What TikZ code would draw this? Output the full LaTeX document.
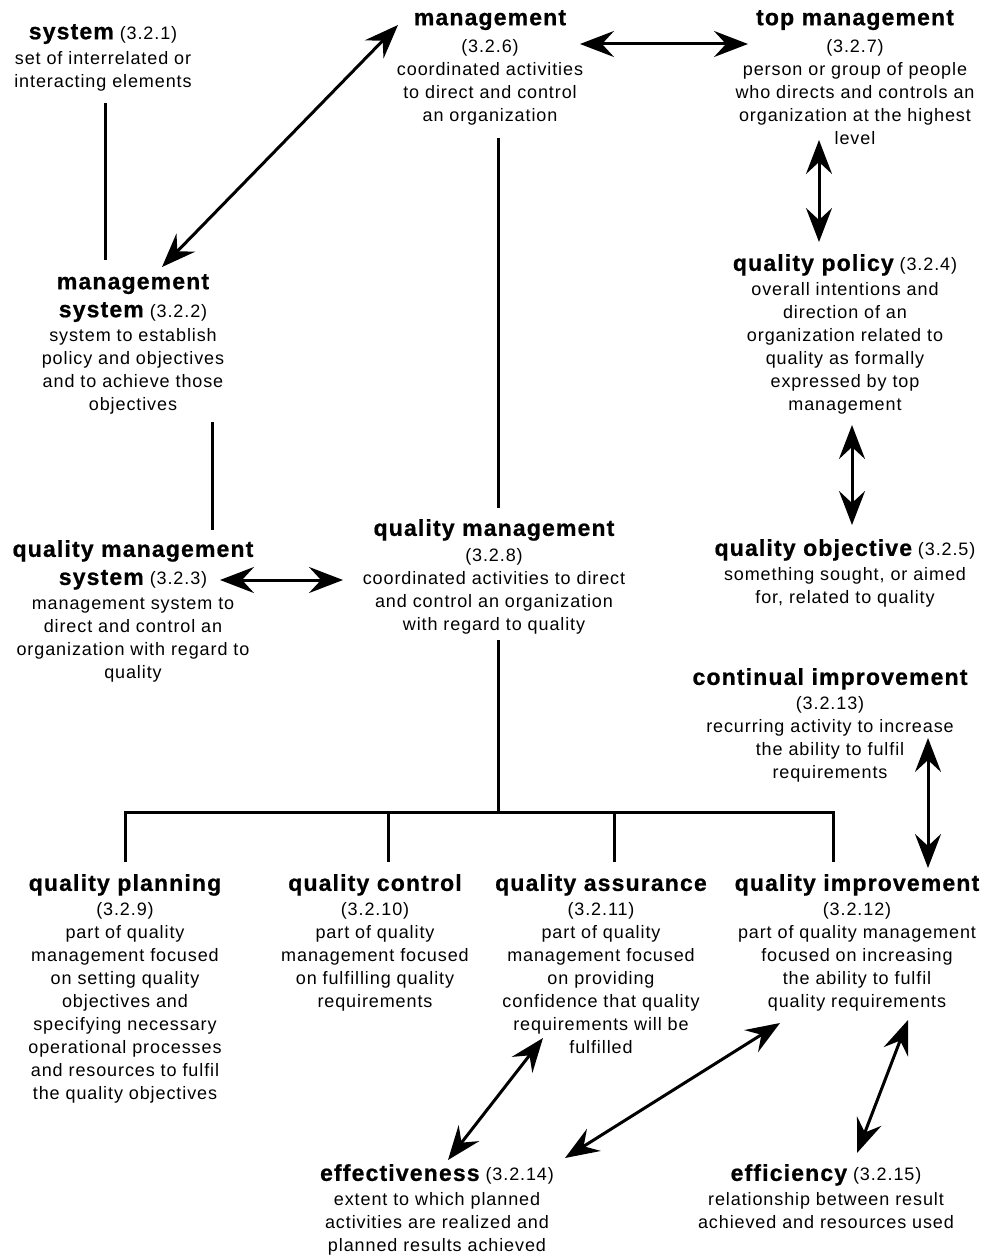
\documentclass[tikz,border=0pt]{standalone}
\usepackage{fontspec}
\setmainfont{Liberation Sans}[LetterSpace=5]
\newfontfamily\ttlfont{Liberation Sans}[LetterSpace=5, BoldFeatures={FakeBold=0.8}]
\usetikzlibrary{arrows.meta}
\newcommand\ttl[1]{{\ttlfont\bfseries\fontsize{23}{23}\selectfont #1}}
\tikzset{
  concept/.style={align=center, inner sep=0pt, anchor=north,
    font=\fontsize{18}{23}\selectfont},
  ln/.style={line width=3pt},
  dbl/.style={line width=3pt, arrows={Stealth[length=34pt,width=26pt,inset=12pt]-Stealth[length=34pt,width=26pt,inset=12pt]}}
}
\begin{document}
\begin{tikzpicture}[x=1pt,y=-1pt]
\useasboundingbox[fill=white] (0,0) rectangle (985,1255);
\node[concept] (sys) at (103,24) {\ttl{system} (3.2.1)\\[2pt]set of interrelated or\\interacting elements};
\node[concept] (mgmt) at (490,10) {\ttl{management}\\[4pt](3.2.6)\\coordinated activities\\to direct and control\\an organization};
\node[concept] (topm) at (855,10) {\ttl{top management}\\[4pt](3.2.7)\\person or group of people\\who directs and controls an\\organization at the highest\\level};
\node[concept] (mgsys) at (133,274) {\ttl{management}\\[5pt]\ttl{system} (3.2.2)\\[1pt]system to establish\\policy and objectives\\and to achieve those\\objectives};
\node[concept] (qpol) at (845,254) {\ttl{quality policy} (3.2.4)\\[2pt]overall intentions and\\direction of an\\organization related to\\quality as formally\\expressed by top\\management};
\node[concept] (qms) at (133,540) {\ttl{quality management}\\[5pt]\ttl{system} (3.2.3)\\[2pt]management system to\\direct and control an\\organization with regard to\\quality};
\node[concept] (qm) at (494,519) {\ttl{quality management}\\[3pt](3.2.8)\\coordinated activities to direct\\and control an organization\\with regard to quality};
\node[concept] (qobj) at (845,539) {\ttl{quality objective} (3.2.5)\\[2pt]something sought, or aimed\\for, related to quality};
\node[concept] (ci) at (830,668) {\ttl{continual improvement}\\[2pt](3.2.13)\\recurring activity to increase\\the ability to fulfil\\requirements};
\node[concept] (qplan) at (125,874) {\ttl{quality planning}\\[2pt](3.2.9)\\part of quality\\management focused\\on setting quality\\objectives and\\specifying necessary\\operational processes\\and resources to fulfil\\the quality objectives};
\node[concept] (qc) at (375,874) {\ttl{quality control}\\[2pt](3.2.10)\\part of quality\\management focused\\on fulfilling quality\\requirements};
\node[concept] (qa) at (601,874) {\ttl{quality assurance}\\[2pt](3.2.11)\\part of quality\\management focused\\on providing\\confidence that quality\\requirements will be\\fulfilled};
\node[concept] (qi) at (857,874) {\ttl{quality improvement}\\[2pt](3.2.12)\\part of quality management\\focused on increasing\\the ability to fulfil\\quality requirements};
\node[concept] (eff) at (437,1164) {\ttl{effectiveness} (3.2.14)\\[2pt]extent to which planned\\activities are realized and\\planned results achieved};
\node[concept] (effi) at (826,1164) {\ttl{efficiency} (3.2.15)\\[2pt]relationship between result\\achieved and resources used};
% connectors
\draw[ln] ([xshift=2pt,yshift=-79pt]sys.north) -- ([xshift=-28pt,yshift=14pt]mgsys.north);
\draw[dbl] ([xshift=-92pt,yshift=-15pt]mgmt.north) -- ([xshift=29pt,yshift=7pt]mgsys.north);
\draw[dbl] ([xshift=90pt,yshift=-34pt]mgmt.north) -- ([xshift=-107pt,yshift=-34pt]topm.north);
\draw[dbl] ([xshift=-36pt,yshift=-130pt]topm.north) -- ([xshift=-26pt,yshift=12pt]qpol.north);
\draw[dbl] ([xshift=7pt,yshift=-171pt]qpol.north) -- ([xshift=7pt,yshift=14pt]qobj.north);
\draw[ln] ([xshift=79pt,yshift=-148pt]mgsys.north) -- ([xshift=79pt,yshift=10pt]qms.north);
\draw[ln] ([xshift=8pt,yshift=-128pt]mgmt.north) -- ([xshift=4pt,yshift=11pt]qm.north);
\draw[dbl] ([xshift=87pt,yshift=-40pt]qms.north) -- ([xshift=-151pt,yshift=-61pt]qm.north);
\coordinate (bar) at ([xshift=4pt,yshift=-293pt]qm.north);
\draw[ln] ([xshift=4pt,yshift=-121pt]qm.north) -- (bar);
\draw[ln] (bar) -| ([yshift=12pt]qplan.north);
\draw[ln] (bar) -| ([xshift=13pt,yshift=12pt]qc.north);
\draw[ln] (bar) -| ([xshift=13pt,yshift=12pt]qa.north);
\draw[ln] (bar) -| ([xshift=-24pt,yshift=12pt]qi.north);
\draw[dbl] ([xshift=98pt,yshift=-70pt]ci.north) -- ([xshift=71pt,yshift=6pt]qi.north);
\draw[dbl] ([xshift=11pt,yshift=4pt]eff.north) -- ([xshift=-58pt,yshift=-164pt]qa.north);
\draw[dbl] ([xshift=128pt,yshift=6pt]eff.north) -- ([xshift=-77pt,yshift=-149pt]qi.north);
\draw[dbl] ([xshift=31pt,yshift=11pt]effi.north) -- ([xshift=51pt,yshift=-146pt]qi.north);
\end{tikzpicture}
\end{document}
